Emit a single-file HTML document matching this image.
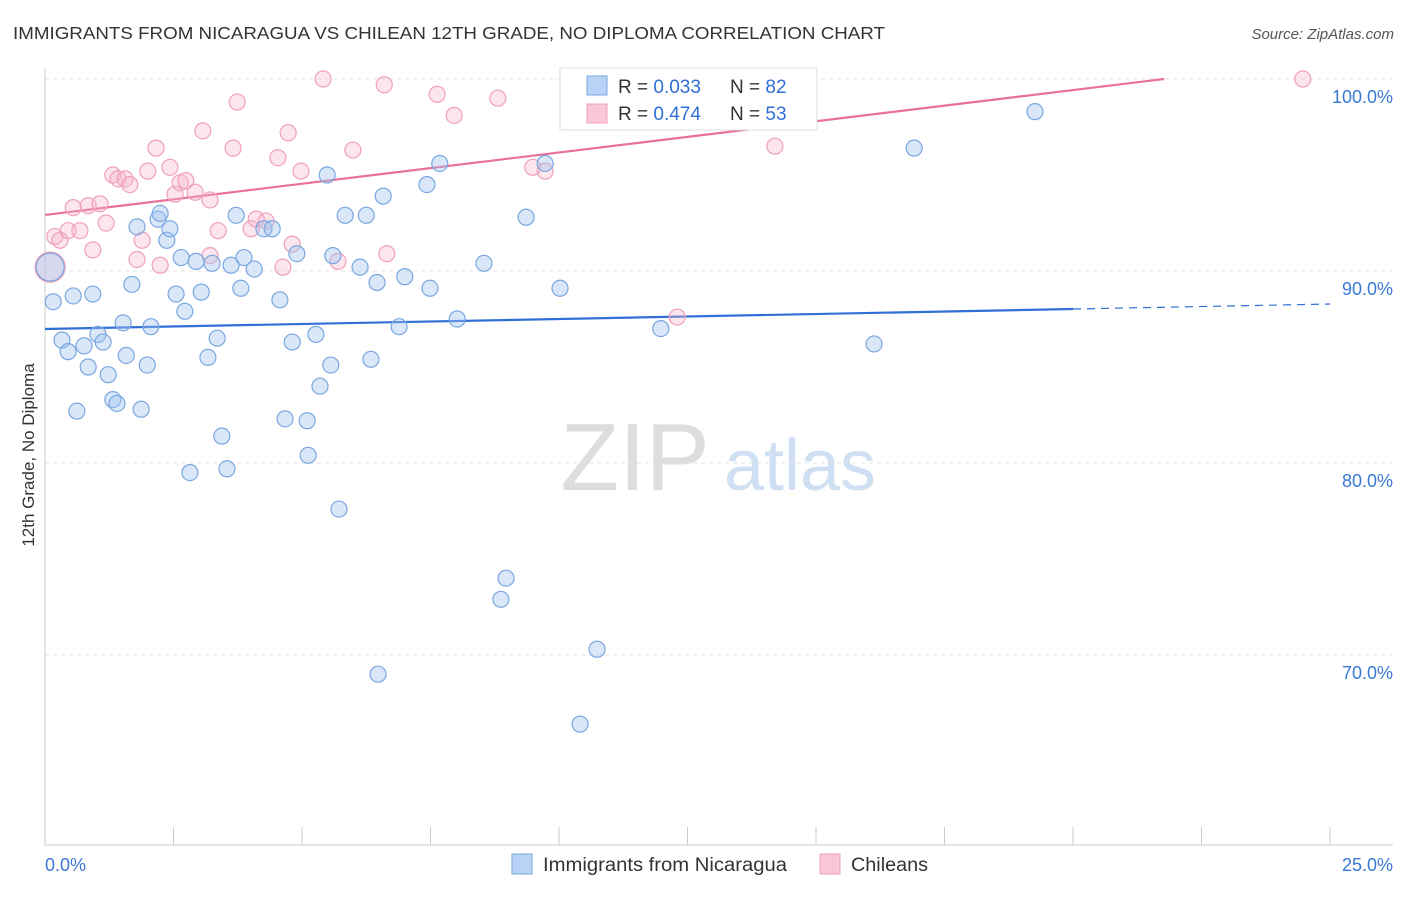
<!DOCTYPE html>
<html><head><meta charset="utf-8"><style>
body{margin:0;background:#fff;font-family:"Liberation Sans",sans-serif}
svg text{font-family:"Liberation Sans",sans-serif}
</style></head><body>
<svg id="chart" width="1406" height="892" xmlns="http://www.w3.org/2000/svg">
<text x="13" y="39" font-size="17.5" fill="#333" textLength="872" lengthAdjust="spacingAndGlyphs">IMMIGRANTS FROM NICARAGUA VS CHILEAN 12TH GRADE, NO DIPLOMA CORRELATION CHART</text>
<text x="1394" y="39" font-size="15" fill="#555" text-anchor="end" font-style="italic">Source: ZipAtlas.com</text>
<text transform="translate(34,455) rotate(-90)" font-size="17" fill="#333" text-anchor="middle">12th Grade, No Diploma</text>
<g><text x="635" y="490" font-size="96" fill="#ddd" font-family="Liberation Serif" text-anchor="middle">ZIP</text><text x="800" y="490" font-size="72" fill="#cfe0f3" text-anchor="middle">atlas</text></g>
<g id="grid"></g><g id="axes"></g><g id="trends"></g><g id="pts"></g>
<g>
<rect x="560" y="68" width="257" height="62" fill="#fff" stroke="#ddd"/>
<rect x="587" y="76" width="20" height="19" fill="#b8d3f5" stroke="#7aa7e0"/>
<text x="618" y="93" font-size="19" fill="#333">R = <tspan fill="#2f6fd6">0.033</tspan></text>
<text x="730" y="93" font-size="19" fill="#333">N = <tspan fill="#2f6fd6">82</tspan></text>
<rect x="587" y="104" width="20" height="19" fill="#f9c7d6" stroke="#f0a0b8"/>
<text x="618" y="120" font-size="19" fill="#333">R = <tspan fill="#2f6fd6">0.474</tspan></text>
<text x="730" y="120" font-size="19" fill="#333">N = <tspan fill="#2f6fd6">53</tspan></text>
</g>
<g>
<rect x="512" y="854" width="20" height="20" fill="#b8d3f5" stroke="#7aa7e0"/>
<text x="543" y="871" font-size="19" fill="#333" textLength="244" lengthAdjust="spacingAndGlyphs">Immigrants from Nicaragua</text>
<rect x="820" y="854" width="20" height="20" fill="#f9c7d6" stroke="#f0a0b8"/>
<text x="851" y="871" font-size="19" fill="#333" textLength="77" lengthAdjust="spacingAndGlyphs">Chileans</text>
</g>
</svg>
<script>
const yTicks=[100,90,80,70];
const yTickLabels=["100.0%","90.0%","80.0%","70.0%"];
const xTicks=[0,2.5,5,7.5,10,12.5,15,17.5,20,22.5,25];
const xEndLabels=["0.0%","25.0%"];
const blueX=[0.10,0.16,0.33,0.45,0.55,0.62,0.76,0.84,0.93,1.03,1.13,1.23,1.32,1.40,1.52,1.58,1.69,1.79,1.87,1.99,2.06,2.20,2.24,2.37,2.43,2.55,2.65,2.72,2.82,2.94,3.04,3.17,3.25,3.35,3.44,3.54,3.62,3.72,3.81,3.87,4.07,4.26,4.42,4.57,4.67,4.81,4.90,5.12,5.10,5.27,5.35,5.49,5.56,5.60,5.72,5.84,6.13,6.25,6.34,6.46,6.48,6.58,6.89,7.00,7.43,7.49,7.68,8.02,8.54,8.87,8.97,9.36,9.73,10.02,10.41,10.74,11.98,16.13,16.91,19.26];
const blueY=[90.2,88.4,86.4,85.8,88.7,82.7,86.1,85.0,88.8,86.7,86.3,84.6,83.3,83.1,87.3,85.6,89.3,92.3,82.8,85.1,87.1,92.7,93.0,91.6,92.2,88.8,90.7,87.9,79.5,90.5,88.9,85.5,90.4,86.5,81.4,79.7,90.3,92.9,89.1,90.7,90.1,92.2,92.2,88.5,82.3,86.3,90.9,80.4,82.2,86.7,84.0,95.0,85.1,90.8,77.6,92.9,90.2,92.9,85.4,89.4,69.0,93.9,87.1,89.7,94.5,89.1,95.6,87.5,90.4,72.9,74.0,92.8,95.6,89.1,66.4,70.3,87.0,86.2,96.4,98.3];
const pinkX=[0.10,0.19,0.29,0.45,0.55,0.68,0.84,0.93,1.07,1.19,1.32,1.42,1.56,1.65,1.79,1.89,2.00,2.16,2.24,2.43,2.53,2.63,2.74,2.92,3.07,3.21,3.21,3.37,3.66,3.74,4.01,4.11,4.30,4.53,4.63,4.73,4.81,4.98,5.41,5.70,5.99,6.60,6.65,7.63,7.96,8.81,9.49,9.73,12.30,13.11,14.20,24.47];
const pinkY=[90.2,91.8,91.6,92.1,93.3,92.1,93.4,91.1,93.5,92.5,95.0,94.8,94.8,94.5,90.6,91.6,95.2,96.4,90.3,95.4,94.0,94.6,94.7,94.1,97.3,93.7,90.8,92.1,96.4,98.8,92.2,92.7,92.6,95.9,90.2,97.2,91.4,95.2,100,90.5,96.3,99.7,90.9,99.2,98.1,99.0,95.4,95.2,87.6,100,96.5,100];
const blueTrend=[86.98,88.28];
const pinkTrend=[92.92,101.05];
const blueSolidEnd=20;
const X0=45,X1=1330,YT=79,PX=19.2;
const sx=v=>X0+v/25*(X1-X0);
const sy=v=>YT+(100-v)*PX;
const NS="http://www.w3.org/2000/svg";
function mk(parent,tag,attrs){const e=document.createElementNS(NS,tag);for(const k in attrs)e.setAttribute(k,attrs[k]);document.getElementById(parent).appendChild(e);return e;}
yTicks.forEach((t,i)=>{
 const l=mk('grid','line',{x1:X0,x2:1393,y1:sy(t),y2:sy(t),stroke:'#e3e3e3','stroke-dasharray':'4,4'});
 
 
 const tx=mk('grid','text',{x:1393,y:sy(t)+24,'font-size':18,fill:'#3a78d6','text-anchor':'end'});
 tx.textContent=yTickLabels[i];
 
 
});
const ax=mk('axes','line',{x1:X0,x2:X0,y1:68,y2:845,stroke:'#ccc'});


const bx=mk('axes','line',{x1:X0,x2:1393,y1:845,y2:845,stroke:'#ccc'});


xTicks.forEach(t=>{
 const l=mk('axes','line',{x1:sx(t),x2:sx(t),y1:827,y2:845,stroke:'#ccc'});
 
 
});
[[0,'start'],[25,'end']].forEach(([v,a],i)=>{
 const t=mk('axes','text',{x:sx(v)+(i?63:0),y:871,'font-size':18,fill:'#3a78d6','text-anchor':a});
 t.textContent=xEndLabels[i];
 
 
});
function tr(a,x){return a[0]+(a[1]-a[0])*x/25;}
const b1=mk('trends','line',{x1:sx(0),y1:sy(tr(blueTrend,0)),x2:sx(blueSolidEnd),y2:sy(tr(blueTrend,blueSolidEnd)),stroke:'#2f6fd6','stroke-width':2.2});


const b2=mk('trends','line',{x1:sx(blueSolidEnd),y1:sy(tr(blueTrend,blueSolidEnd)),x2:sx(25),y2:sy(tr(blueTrend,25)),stroke:'#2f6fd6','stroke-width':1.2,'stroke-dasharray':'8,6'});


const pEnd=25*(100-pinkTrend[0])/(pinkTrend[1]-pinkTrend[0]);
const p1=mk('trends','line',{x1:sx(0),y1:sy(tr(pinkTrend,0)),x2:sx(pEnd),y2:sy(100),stroke:'#e8709a','stroke-width':2.2});


pinkX.forEach((x,i)=>{
 const c=mk('pts','circle',{cx:sx(x),cy:sy(pinkY[i]),r:i==0?15:8,fill:'rgba(246,180,202,0.35)',stroke:'#f0a0b8','stroke-width':1.2});
 
 
});
blueX.forEach((x,i)=>{
 const c=mk('pts','circle',{cx:sx(x),cy:sy(blueY[i]),r:i==0?14:8,fill:'rgba(160,196,240,0.4)',stroke:'#7aa7e0','stroke-width':1.2});
 
 
});
</script>
</body></html>
